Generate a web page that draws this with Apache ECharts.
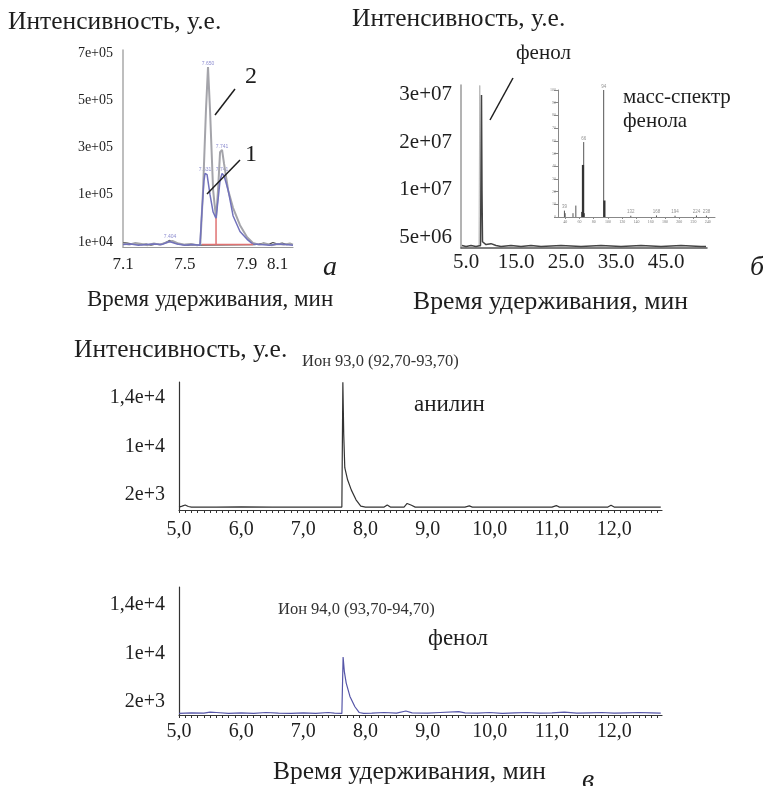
<!DOCTYPE html>
<html>
<head>
<meta charset="utf-8">
<script src="https://cdn.jsdelivr.net/npm/echarts@6/dist/echarts.min.js"></script>
<style>
  html, body { margin: 0; padding: 0; background: #fff; }
  #chart { width: 763px; height: 786px; }
</style>
</head>
<body>
<div id="chart"></div>
<script>
// ---------- Panel а: separation of peaks 1 and 2 ----------
const aXTicks = [7.1, 7.5, 7.9, 8.1];
const aYTicks = [1e4, 1e5, 3e5, 5e5, 7e5];
const aYLabels = ['1e+04', '1e+05', '3e+05', '5e+05', '7e+05'];
// trace 2 (grey)
const aTrace2 = [
  [7.10, 7e3], [7.14, 5e3], [7.18, 8e3], [7.22, 6e3], [7.26, 4e3], [7.30, 7e3], [7.34, 5e3],
  [7.38, 9e3], [7.42, 1.2e4], [7.46, 7e3], [7.50, 5e3], [7.54, 6e3], [7.58, 4e3], [7.600, 5e3],
  [7.618, 1.2e5], [7.637, 4.6e5], [7.650, 6.4e5], [7.663, 4.6e5], [7.683, 1.2e5], [7.702, 5.5e4],
  [7.715, 1.2e5], [7.728, 2.8e5], [7.741, 2.9e5], [7.754, 2.3e5], [7.780, 1.2e5], [7.812, 7.5e4],
  [7.857, 4.2e4], [7.903, 1.9e4], [7.941, 8e3], [7.98, 5e3], [8.02, 7e3], [8.06, 4e3],
  [8.10, 6e3], [8.14, 5e3], [8.18, 7e3], [8.20, 5e3]
];
// trace 1 (blue)
const aTrace1 = [
  [7.10, 5e3], [7.15, 6e3], [7.20, 4e3], [7.25, 5e3], [7.30, 6e3], [7.35, 5e3], [7.40, 1.1e4],
  [7.45, 6e3], [7.50, 4e3], [7.55, 5e3], [7.598, 4e3], [7.611, 7e4], [7.624, 1.6e5], [7.631, 1.9e5],
  [7.644, 1.85e5], [7.663, 1.0e5], [7.683, 6.7e4], [7.702, 5.5e4], [7.715, 9e4], [7.728, 1.6e5],
  [7.741, 1.9e5], [7.754, 1.8e5], [7.780, 1.2e5], [7.812, 6e4], [7.857, 3e4], [7.903, 1.5e4],
  [7.941, 6e3], [7.99, 5e3], [8.05, 4e3], [8.10, 6e3], [8.15, 5e3], [8.20, 4e3]
];
// background noise trace (dark)
const aNoise = [
  [7.10, 9e3], [7.13, 8e3], [7.16, 6e3], [7.19, 7e3], [7.22, 5e3], [7.25, 6e3], [7.28, 4e3],
  [7.31, 6e3], [7.34, 5e3], [7.37, 8e3], [7.40, 1.3e4], [7.43, 9e3], [7.46, 6e3], [7.49, 5e3],
  [7.52, 4e3], [7.55, 5e3], [7.58, 4e3], [7.95, 5e3], [7.98, 6e3], [8.01, 8e3], [8.04, 5e3],
  [8.07, 9e3], [8.10, 6e3], [8.13, 8e3], [8.16, 5e3], [8.19, 7e3]
];
// integration baseline and peak split (red)
const aIntegBase = [[7.611, 5e3], [7.941, 5e3]];
const aIntegSplit = [[7.702, 5e3], [7.702, 5.5e4]];
// retention-time marks printed above the apexes
const aApexes = [[7.650, 6.4e5], [7.741, 2.9e5], [7.631, 1.9e5], [7.741, 1.9e5], [7.404, 1.3e4]];

// ---------- Panel б: total ion chromatogram + mass spectrum of phenol ----------
const bXTicks = [5, 15, 25, 35, 45];
const bYTicks = [5e6, 1e7, 2e7, 3e7];
const bYLabels = ['5e+06', '1e+07', '2e+07', '3e+07'];
const bTic = [
  [4.2, 4.1e6], [5, 4.0e6], [6, 4.1e6], [7, 4.0e6], [7.9, 4.1e6], [8.0, 1.2e7], [8.1, 3.0e7],
  [8.2, 1.0e7], [8.3, 4.5e6], [9, 4.2e6], [10, 4.3e6], [11, 4.1e6], [12, 4.0e6], [14, 4.1e6],
  [16, 4.0e6], [18, 4.1e6], [20, 4.0e6], [24, 4.1e6], [28, 4.0e6], [32, 4.1e6], [36, 4.0e6],
  [40, 4.1e6], [44, 4.0e6], [48, 4.1e6], [52, 4.0e6], [53, 4.0e6]
];
const bTicOverlay = [[7.6, 4.0e6], [7.75, 3.2e7], [7.9, 4.0e6]];
// mass spectrum: [m/z, relative abundance %]
const msXTicks = [40, 60, 80, 100, 120, 140, 160, 180, 200, 220, 240];
const msPeaks = [
  [39, 5], [40, 3], [51, 3], [55, 9], [63, 4], [66, 59], [67, 3], [94, 100],
  [132, 1], [168, 1.2], [194, 1], [224, 1.2], [238, 1]
];
const msPeaksStrong = [[65, 41], [95, 13]];
const msLabelled = [[39, 5], [66, 59], [94, 100], [132, 1], [168, 1.2], [194, 1], [224, 1.2], [238, 1]];

// ---------- Panel в: extracted ion chromatograms ----------
const vXTicks = [5, 6, 7, 8, 9, 10, 11, 12];
const vYTicks = [2e3, 1e4, 1.4e4];
const vYLabels = ['2e+3', '1e+4', '1,4e+4'];
// ion 93 (aniline)
const ion93 = [
  [5.0, 0], [5.05, 150], [5.1, 350], [5.15, 100], [5.2, 0], [5.6, 0], [6.0, 50], [6.5, 0],
  [7.0, 0], [7.5, 0], [7.62, 0], [7.636, 15300], [7.65, 11000], [7.667, 6500], [7.712, 4500],
  [7.773, 2800], [7.848, 1200], [7.924, 150], [8.0, 0], [8.3, 0], [8.35, 350], [8.4, 0],
  [8.62, 0], [8.67, 600], [8.69, 900], [8.74, 300], [8.8, 0], [9.6, 0], [9.67, 200], [9.72, 0],
  [11.0, 0], [11.07, 250], [11.12, 0], [11.9, 0], [11.95, 300], [12.0, 0], [12.75, 0]
];
// ion 94 (phenol)
const ion94 = [
  [5.0, 100], [5.2, 200], [5.4, 150], [5.5, 300], [5.6, 250], [5.8, 100], [6.0, 200], [6.2, 100],
  [6.4, 250], [6.6, 150], [6.8, 100], [7.0, 200], [7.2, 100], [7.4, 250], [7.5, 150], [7.62, 100],
  [7.64, 9400], [7.66, 7000], [7.69, 5100], [7.75, 2900], [7.83, 1200], [7.90, 250], [7.97, 100],
  [8.1, 150], [8.3, 250], [8.5, 150], [8.65, 500], [8.75, 200], [9.0, 150], [9.2, 250], [9.5, 400],
  [9.6, 200], [9.8, 150], [10.0, 250], [10.2, 100], [10.4, 200], [10.6, 250], [10.8, 150],
  [11.0, 200], [11.2, 300], [11.4, 150], [11.6, 200], [11.8, 250], [12.0, 150], [12.2, 200],
  [12.4, 250], [12.6, 200], [12.75, 150]
];

// ---------- helpers ----------
const SERIF = '"Liberation Serif", "Times New Roman", serif';
const INK = '#1e1e1e';

// Segmented intensity scale: each labelled tick occupies one equal step on the axis.
function segIndex(v, ticks) {
  let i = 0;
  while (i < ticks.length - 2 && v > ticks[i + 1]) i++;
  return i + (v - ticks[i]) / (ticks[i + 1] - ticks[i]);
}
const onScale = (data, ticks) => data.map(([x, v]) => [x, segIndex(v, ticks)]);
const idxList = ticks => ticks.map((_, i) => i);
const commaFmt = v => v.toFixed(1).replace('.', ',');

const vMinor = [];
for (let k = 50; k <= 127; k++) vMinor.push(k / 10);

function lineSeries(xi, data, color, width) {
  return {
    type: 'line', xAxisIndex: xi, yAxisIndex: xi, data, symbol: 'none',
    lineStyle: { color, width }, animation: false, silent: true
  };
}

function text(str, x, y, size, extra) {
  return {
    type: 'text', z: 100,
    style: Object.assign({
      text: str, x, y, fill: INK, verticalAlign: 'middle',
      font: size + 'px ' + SERIF
    }, extra || {})
  };
}
function stroke(x1, y1, x2, y2) {
  return {
    type: 'line', z: 100, shape: { x1, y1, x2, y2 },
    style: { stroke: INK, lineWidth: 1.5 }
  };
}

const labelBase = { fontFamily: SERIF, color: INK };

const option = {
  animation: false,
  backgroundColor: '#fff',
  grid: [
    { left: 123, top: 50, width: 170, height: 197 },   // а
    { left: 461, top: 85, width: 246, height: 163 },   // б
    { left: 558, top: 90, width: 157, height: 127 },   // б, mass spectrum
    { left: 179, top: 382, width: 483, height: 128 },  // в, ion 93
    { left: 179, top: 587, width: 483, height: 128 }   // в, ion 94
  ],
  xAxis: [
    {
      gridIndex: 0, type: 'value', min: 7.1, max: 8.2,
      axisLine: { onZero: false, lineStyle: { color: '#9a9a9a', width: 1.2 } },
      axisTick: { show: false }, splitLine: { show: false },
      axisLabel: Object.assign({ customValues: aXTicks, formatter: v => v.toFixed(1), fontSize: 17, margin: 9 }, labelBase)
    },
    {
      gridIndex: 1, type: 'value', min: 4, max: 53.2,
      axisLine: { onZero: false, lineStyle: { color: '#555', width: 1.5 } },
      axisTick: { show: false }, splitLine: { show: false },
      axisLabel: Object.assign({ customValues: bXTicks, formatter: v => v.toFixed(1), fontSize: 21, margin: 4 }, labelBase)
    },
    {
      gridIndex: 2, type: 'value', min: 30, max: 250,
      axisLine: { onZero: false, lineStyle: { color: '#888', width: 1 } },
      axisTick: { customValues: msXTicks, length: 2, lineStyle: { color: '#888' } },
      splitLine: { show: false },
      axisLabel: { customValues: msXTicks, fontSize: 4, margin: 3, color: '#777', fontFamily: SERIF }
    },
    {
      gridIndex: 3, type: 'value', min: 5, max: 12.77,
      axisLine: { onZero: false, lineStyle: { color: '#333', width: 1.2 } },
      axisTick: { customValues: vMinor, length: 3, lineStyle: { color: '#333' } },
      splitLine: { show: false },
      axisLabel: Object.assign({ customValues: vXTicks, formatter: commaFmt, fontSize: 20, margin: 10 }, labelBase)
    },
    {
      gridIndex: 4, type: 'value', min: 5, max: 12.77,
      axisLine: { onZero: false, lineStyle: { color: '#333', width: 1.2 } },
      axisTick: { customValues: vMinor, length: 3, lineStyle: { color: '#333' } },
      splitLine: { show: false },
      axisLabel: Object.assign({ customValues: vXTicks, formatter: commaFmt, fontSize: 20, margin: 7 }, labelBase)
    }
  ],
  yAxis: [
    {
      gridIndex: 0, type: 'value', min: -0.106, max: 4.06,
      axisLine: { show: true, onZero: false, lineStyle: { color: '#a8a8a8', width: 1.5 } },
      axisTick: { show: false }, splitLine: { show: false },
      axisLabel: Object.assign({ customValues: idxList(aYTicks), formatter: v => aYLabels[Math.round(v)], fontSize: 14, margin: 10 }, labelBase)
    },
    {
      gridIndex: 1, type: 'value', min: -0.232, max: 3.21,
      axisLine: { show: true, onZero: false, lineStyle: { color: '#9a9a9a', width: 1.5 } },
      axisTick: { show: false }, splitLine: { show: false },
      axisLabel: Object.assign({ customValues: idxList(bYTicks), formatter: v => bYLabels[Math.round(v)], fontSize: 21, margin: 9 }, labelBase)
    },
    {
      gridIndex: 2, type: 'value', min: 0, max: 100, interval: 10,
      axisLine: { show: true, onZero: false, lineStyle: { color: '#888', width: 1 } },
      axisTick: { show: true, length: 4, lineStyle: { color: '#888' } },
      splitLine: { show: false },
      axisLabel: { fontSize: 4, margin: 2, color: '#888', fontFamily: SERIF }
    },
    {
      gridIndex: 3, type: 'value', min: -0.31, max: 2.33,
      axisLine: { show: true, onZero: false, lineStyle: { color: '#333', width: 1.2 } },
      axisTick: { show: false }, splitLine: { show: false },
      axisLabel: Object.assign({ customValues: idxList(vYTicks), formatter: v => vYLabels[Math.round(v)], fontSize: 20, margin: 14 }, labelBase)
    },
    {
      gridIndex: 4, type: 'value', min: -0.27, max: 2.37,
      axisLine: { show: true, onZero: false, lineStyle: { color: '#333', width: 1.2 } },
      axisTick: { show: false }, splitLine: { show: false },
      axisLabel: Object.assign({ customValues: idxList(vYTicks), formatter: v => vYLabels[Math.round(v)], fontSize: 20, margin: 14 }, labelBase)
    }
  ],
  series: [
    // а
    lineSeries(0, onScale(aNoise, aYTicks), '#4a4a4a', 1.2),
    lineSeries(0, onScale(aTrace2, aYTicks), '#a4a4aa', 2),
    lineSeries(0, onScale(aTrace1, aYTicks), '#7272bc', 1.5),
    lineSeries(0, onScale(aIntegBase, aYTicks), '#e07272', 1.5),
    lineSeries(0, onScale(aIntegSplit, aYTicks), '#e07272', 1.5),
    {
      type: 'scatter', xAxisIndex: 0, yAxisIndex: 0, symbolSize: 0, silent: true,
      data: onScale(aApexes, aYTicks),
      label: {
        show: true, position: 'top', distance: 1, fontSize: 5, color: '#7070c4',
        formatter: p => p.value[0].toFixed(3)
      }
    },
    // б
    lineSeries(1, onScale(bTicOverlay, bYTicks), '#b8b8b8', 1),
    lineSeries(1, onScale(bTic, bYTicks), '#444', 1.5),
    {
      type: 'custom', xAxisIndex: 2, yAxisIndex: 2, data: msPeaks, silent: true,
      renderItem: (params, api) => {
        const a = api.coord([api.value(0), 0]);
        const b = api.coord([api.value(0), api.value(1)]);
        return { type: 'line', shape: { x1: a[0], y1: a[1], x2: b[0], y2: b[1] }, style: { stroke: '#555', lineWidth: 1 } };
      }
    },
    {
      type: 'custom', xAxisIndex: 2, yAxisIndex: 2, data: msPeaksStrong, silent: true,
      renderItem: (params, api) => {
        const a = api.coord([api.value(0), 0]);
        const b = api.coord([api.value(0), api.value(1)]);
        return { type: 'line', shape: { x1: a[0], y1: a[1], x2: b[0], y2: b[1] }, style: { stroke: '#333', lineWidth: 2.2 } };
      }
    },
    {
      type: 'scatter', xAxisIndex: 2, yAxisIndex: 2, symbolSize: 0, silent: true,
      data: msLabelled,
      label: { show: true, position: 'top', distance: 1, fontSize: 4.5, color: '#777', formatter: p => String(p.value[0]) }
    },
    // в
    lineSeries(3, onScale(ion93, vYTicks), '#333', 1.2),
    lineSeries(4, onScale(ion94, vYTicks), '#5656a8', 1.2)
  ],
  graphic: [
    // а
    text('Интенсивность, у.е.', 8, 22, 25.5),
    text('2', 245, 77, 24),
    stroke(235, 89, 215, 115),
    text('1', 245, 155, 24),
    stroke(240, 160, 207, 194),
    text('а', 323, 268, 28, { font: 'italic 28px ' + SERIF }),
    text('Время удерживания, мин', 87, 300, 23),
    // б
    text('Интенсивность, у.е.', 352, 19, 25.5),
    text('фенол', 516, 53, 21),
    stroke(513, 78, 490, 120),
    text('масс-спектр', 623, 97, 21),
    text('фенола', 623, 121, 21),
    text('б', 750, 268, 28, { font: 'italic 28px ' + SERIF }),
    text('Время удерживания, мин', 413, 302, 25.7),
    // в
    text('Интенсивность, у.е.', 74, 350, 25.5),
    text('Ион 93,0 (92,70-93,70)', 302, 362, 16.5, { fill: '#333' }),
    text('анилин', 414, 405, 23),
    text('Ион 94,0 (93,70-94,70)', 278, 610, 16.5, { fill: '#333' }),
    text('фенол', 428, 639, 23),
    text('Время удерживания, мин', 273, 772, 25.5),
    text('в', 582, 781, 28, { font: 'italic 28px ' + SERIF })
  ]
};

const chart = echarts.init(document.getElementById('chart'), null, { renderer: 'canvas' });
chart.setOption(option);
</script>
</body>
</html>
